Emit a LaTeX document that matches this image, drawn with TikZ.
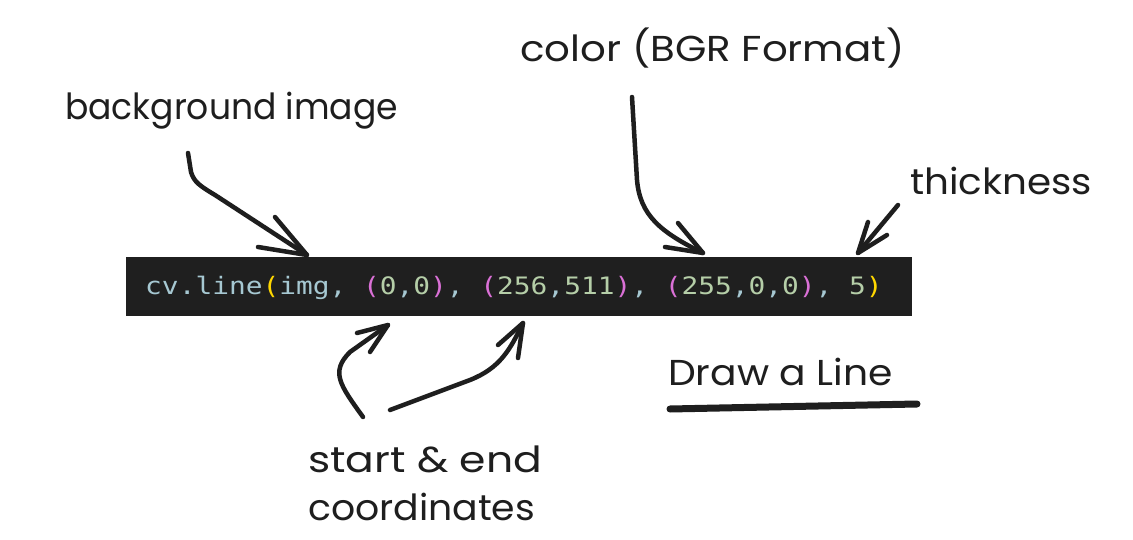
\documentclass[tikz,border=0pt]{standalone}
\usepackage{fontspec}
\setmainfont{Poppins}
\newfontfamily\codefont{DejaVu Sans Mono}
\definecolor{ink}{HTML}{1E1E1E}
\definecolor{codebg}{HTML}{1F1F1F}
\definecolor{idc}{HTML}{A6C8D2}
\definecolor{numc}{HTML}{B5CEA8}
\definecolor{yelc}{HTML}{FFD700}
\definecolor{pinkc}{HTML}{DA70D6}
\newcommand{\codeid}[1]{\textcolor{idc}{#1}}
\newcommand{\codenum}[1]{\textcolor{numc}{#1}}
\newcommand{\codey}[1]{\textcolor{yelc}{#1}}
\newcommand{\codep}[1]{\textcolor{pinkc}{#1}}
\tikzset{
  hand/.style={draw=ink, line width=4.5pt, line cap=round, line join=round},
  lbl/.style={inner sep=0pt, anchor=base west, text=ink, font=\fontsize{36}{42}\selectfont},
  codetext/.style={inner sep=0pt, anchor=west, font=\codefont\fontsize{24}{28}\selectfont, xscale=1.16}
}
\begin{document}
\begin{tikzpicture}[x=1pt,y=-1pt]
\useasboundingbox (0,0) rectangle (1133,540);
\fill[white] (0,0) rectangle (1133,540);

% code bar
\node[fill=codebg, inner sep=0pt, minimum width=786pt, minimum height=59pt, anchor=north west] (bar) at (126,257) {};
\node[codetext] (code) at (145,288) {\codeid{cv.line}\codey{(}\codeid{img, }\codep{(}\codenum{0}\codeid{,}\codenum{0}\codep{)}\codeid{, }\codep{(}\codenum{256}\codeid{,}\codenum{511}\codep{)}\codeid{, }\codep{(}\codenum{255}\codeid{,}\codenum{0}\codeid{,}\codenum{0}\codep{)}\codeid{, }\codenum{5}\codey{)}};

% labels
\node[lbl, xscale=0.96] (bgl) at (65,120) {background image};
\node[lbl, xscale=1.12] (coll) at (520,62) {color (BGR Format)};
\node[lbl, xscale=1.08] (thl) at (910,195) {thickness};
\node[lbl, xscale=1.09] (drl) at (668,385) {Draw a Line};
\node[lbl, xscale=1.18] (sel) at (308,472) {start \& end};
\node[lbl, xscale=1.05] (crl) at (308,520) {coordinates};

% arrow coordinates
\coordinate (bgs) at (188,153);
\coordinate (bgt) at (307,255);
\coordinate (cols) at (632,97);
\coordinate (colt) at (703,253);
\coordinate (ths) at (898,205);
\coordinate (tht) at (858,253);
\coordinate (sts) at (363,417);
\coordinate (stt) at (388,325);
\coordinate (ens) at (390,410);
\coordinate (ent) at (523,323);
\coordinate (ula) at (670,409);
\coordinate (ulb) at (917,404);

% background image arrow
\draw[hand] (bgs) -- (191,172) .. controls (194,182) and (200,186) .. (215,195) -- (bgt);
\draw[hand] (258,247) -- (bgt) -- (275,217);
% color arrow
\draw[hand] (cols) -- (637,180) .. controls (640,215) and (660,232) .. (colt);
\draw[hand] (665,247) -- (colt) -- (678,223);
% thickness arrow
\draw[hand] (ths) -- (tht);
\draw[hand] (868,222) -- (tht) -- (887,235);
% start arrow
\draw[hand] (sts) .. controls (340,385) and (330,372) .. (350,352) -- (stt);
\draw[hand] (357,333) -- (stt) -- (370,352);
% end arrow
\draw[hand] (ens) -- (470,380) .. controls (500,368) and (510,350) .. (ent);
\draw[hand] (498,345) -- (ent) -- (518,358);
% underline
\draw[draw=ink, line width=7pt, line cap=round] (ula) -- (ulb);
\end{tikzpicture}
\end{document}
